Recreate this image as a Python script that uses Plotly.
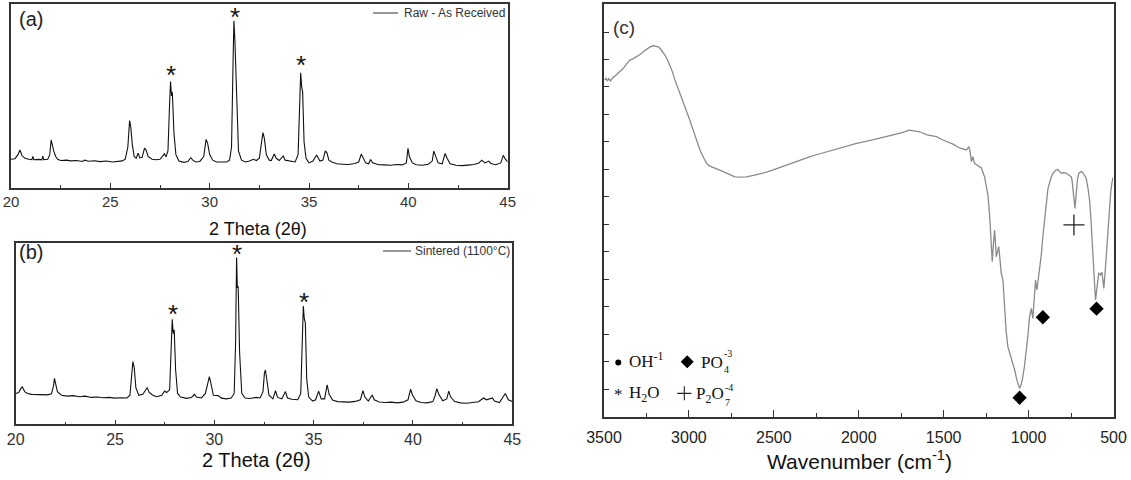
import plotly.graph_objects as go

W, H = 1131, 480

# ---------------- data: panel (a) XRD raw ----------------
a_2theta = [20.0, 20.2, 20.35, 20.45, 20.55, 20.7, 20.9, 21.05, 21.1, 21.15, 21.4, 21.55, 21.6, 21.65,
            21.85, 21.95, 22.02, 22.08, 22.15, 22.25, 22.35, 22.5, 22.8, 23.0, 23.3, 23.6, 23.7, 23.9,
            24.2, 24.5, 24.8, 25.1, 25.4, 25.6, 25.75, 25.88, 25.97, 26.03, 26.1, 26.2, 26.3, 26.4,
            26.48, 26.6, 26.72, 26.8, 26.9, 27.1, 27.3, 27.5, 27.65, 27.72, 27.8, 27.9, 27.98, 28.03,
            28.08, 28.12, 28.2, 28.3, 28.45, 28.7, 28.9, 29.05, 29.15, 29.3, 29.5, 29.7, 29.82, 29.9,
            30.0, 30.15, 30.35, 30.6, 30.85, 31.0, 31.1, 31.18, 31.22, 31.27, 31.3, 31.36, 31.45, 31.6,
            31.8, 32.0, 32.2, 32.35, 32.5, 32.62, 32.68, 32.75, 32.85, 33.0, 33.1, 33.25, 33.35, 33.5,
            33.7, 33.8, 34.0, 34.3, 34.45, 34.52, 34.58, 34.63, 34.68, 34.75, 34.85, 35.0, 35.2, 35.38,
            35.55, 35.7, 35.82, 35.9, 36.0, 36.15, 36.4, 36.7, 37.0, 37.3, 37.5, 37.63, 37.72, 37.85,
            38.0, 38.1, 38.2, 38.5, 38.8, 39.1, 39.4, 39.7, 39.9, 39.98, 40.05, 40.2, 40.4, 40.7, 41.0,
            41.2, 41.28, 41.36, 41.5, 41.7, 41.85, 41.95, 42.1, 42.4, 42.7, 43.0, 43.3, 43.55, 43.7,
            43.85, 44.05, 44.15, 44.4, 44.65, 44.78, 44.88, 45.0]
a_intensity = [15.5, 15.8, 18, 20.5, 17.5, 16, 15.5, 15.3, 17, 15.2, 15.4, 15.2, 17.2, 15.3,
               15.5, 18, 26, 23, 20, 17, 15.5, 14.8, 15, 14.6, 14.8, 14.3, 15, 14.4,
               14.7, 14.2, 14.5, 14.0, 14.3, 14.6, 15.5, 22, 36.5, 33, 24, 17, 16, 18.8,
               16.2, 16.5, 21.5, 20.5, 17, 15.5, 15.2, 15.5, 17.5, 18.5, 16.8, 20, 45, 57.8,
               50, 52, 30, 18, 14.5, 13.8, 14.2, 16.3, 15, 14.0, 14.3, 17, 26.3, 24,
               18, 15, 14, 13.8, 14, 15, 22, 70, 90.8, 80, 72, 50, 20, 15,
               14, 14.5, 15.5, 14.8, 16, 26, 30, 27, 18, 15, 14.8, 18.3, 16, 14.8,
               17.3, 15, 14.5, 14, 18, 45, 62.5, 55, 52, 25, 16, 13.5, 14.5, 17.8,
               14.5, 15, 20, 19, 15, 14, 13, 12.8, 12.6, 13.2, 14, 18.3, 16, 13.5,
               13, 15.3, 13.5, 12.5, 12.4, 12.2, 12.6, 12.4, 13.5, 21.4, 17, 13.5, 12.5, 12.2, 12.8,
               14.5, 19.9, 17.5, 13.5, 13, 18.7, 16, 13, 12.2, 12, 12.3, 12.6, 13.5, 15,
               13.5, 14.5, 13.2, 12.5, 13.5, 17.6, 15.5, 14]

# ---------------- data: panel (b) XRD sintered ----------------
b_2theta = [20.0, 20.15, 20.25, 20.33, 20.45, 20.6, 20.8, 21.0, 21.3, 21.6, 21.8, 21.9, 21.95, 22.02,
            22.1, 22.3, 22.6, 22.9, 23.2, 23.5, 23.8, 24.1, 24.4, 24.7, 25.0, 25.3, 25.6, 25.75,
            25.85, 25.9, 25.97, 26.05, 26.2, 26.4, 26.55, 26.62, 26.72, 26.9, 27.1, 27.35, 27.5, 27.6,
            27.75, 27.83, 27.88, 27.93, 27.98, 28.05, 28.15, 28.3, 28.6, 28.85, 29.0, 29.1, 29.35, 29.55,
            29.7, 29.75, 29.82, 29.95, 30.2, 30.35, 30.6, 30.85, 31.0, 31.07, 31.12, 31.16, 31.2, 31.27,
            31.38, 31.55, 31.8, 32.1, 32.3, 32.45, 32.52, 32.57, 32.65, 32.75, 32.95, 33.08, 33.18, 33.4,
            33.58, 33.68, 33.9, 34.2, 34.35, 34.43, 34.48, 34.53, 34.58, 34.65, 34.75, 34.95, 35.1, 35.25,
            35.38, 35.55, 35.68, 35.78, 35.95, 36.2, 36.5, 36.8, 37.1, 37.35, 37.48, 37.58, 37.75, 37.95,
            38.05, 38.3, 38.6, 38.9, 39.2, 39.5, 39.75, 39.88, 39.98, 40.15, 40.4, 40.7, 41.0, 41.12,
            41.2, 41.3, 41.5, 41.7, 41.8, 41.9, 42.1, 42.4, 42.7, 43.0, 43.3, 43.55, 43.7, 44.0,
            44.1, 44.35, 44.55, 44.65, 44.8, 45.0]
b_intensity = [17, 17.5, 19.5, 20.7, 18, 17, 16.5, 16.4, 16.6, 16.2, 16.8, 21, 25.3, 22,
               18, 16, 15.5, 15.8, 15.2, 15.5, 14.8, 15, 14.6, 14.8, 14.4, 14.6, 14.5, 16,
               28, 34.5, 31, 20, 16, 16.5, 19, 20.2, 17.5, 16, 15.2, 16, 18.3, 17.5,
               19, 40, 57.8, 50, 52, 30, 17, 15, 14.3, 14.8, 16.5, 15, 14.5, 17,
               24, 26.2, 23, 16, 15.8, 14.4, 14, 14.5, 17, 45, 91.9, 75, 76, 40,
               17, 14.5, 14.2, 14.8, 14.5, 18, 28, 29.9, 24, 16, 14, 18.5, 14.8, 14,
               18, 14.5, 13.8, 13.5, 17, 50, 65.1, 58, 56, 25, 15, 12.8, 13.5, 18.3,
               14, 14, 21.7, 16.5, 13.3, 12.5, 12.3, 12.2, 12.6, 13.5, 18.5, 15, 12.8, 16.1,
               13.5, 12.3, 12, 12.2, 11.8, 12.2, 13.5, 19.3, 16, 13, 12, 11.8, 12.5, 16,
               19.6, 16.5, 13, 14, 18.3, 15, 12.5, 11.8, 11.6, 11.9, 12.4, 14.5, 13.5, 14.5,
               12.8, 12, 15.5, 17, 13.5, 12.5]

# asterisk (peak) labels
ast_a_x = [28.05, 31.25, 34.6]
ast_a_y = [64.0, 95.6, 69.5]
ast_b_x = [27.9, 31.15, 34.5]
ast_b_y = [63.5, 96.6, 70.1]

# ---------------- data: panel (c) FTIR ----------------
c_wn = [3496, 3488, 3480, 3472, 3462, 3455, 3445, 3435, 3416, 3400, 3386, 3366, 3347, 3328, 3308,
        3288, 3269, 3249, 3229, 3210, 3195, 3180, 3171, 3156, 3141, 3127, 3112, 3097, 3082, 3067,
        3053, 3034, 3014, 2995, 2975, 2955, 2935, 2915, 2896, 2880, 2866, 2830, 2798, 2760, 2729,
        2695, 2661, 2620, 2582, 2543, 2504, 2465, 2425, 2386, 2347, 2290, 2228, 2123, 2018, 1913,
        1808, 1750, 1703, 1690, 1641, 1597, 1543, 1504, 1445, 1406, 1366, 1351, 1343, 1337, 1328,
        1318, 1288, 1278, 1259, 1249, 1239, 1229, 1221, 1214, 1207, 1200, 1195, 1190, 1183, 1176,
        1168, 1161, 1151, 1146, 1141, 1132, 1122, 1112, 1102, 1092, 1082, 1069, 1060, 1053, 1045,
        1037, 1025, 1014, 1004, 994, 984, 975, 967, 959, 951, 943, 935, 925, 916, 906,
        896, 886, 870, 857, 843, 828, 818, 808, 793, 778, 763, 749, 744, 739, 733,
        727, 723, 719, 712, 704, 690, 680, 671, 666, 661, 651, 641, 633, 625, 618,
        612, 606, 602, 598, 592, 587, 582, 576, 571, 567, 562, 557, 550, 543, 533,
        524, 516, 508, 503]
c_trans = [12.25, 12.32, 12.22, 12.30, 12.22, 12.28, 12.36, 12.40, 12.50, 12.60, 12.68, 12.85, 12.98, 13.03, 13.10,
           13.18, 13.28, 13.37, 13.46, 13.50, 13.49, 13.46, 13.41, 13.30, 13.16, 13.00, 12.80, 12.55, 12.25, 12.00,
           11.77, 11.46, 11.16, 10.80, 10.43, 10.06, 9.71, 9.44, 9.22, 9.13, 9.10, 9.00, 8.92, 8.82, 8.73,
           8.72, 8.73, 8.78, 8.83, 8.90, 8.98, 9.07, 9.16, 9.25, 9.34, 9.46, 9.57, 9.76, 9.94, 10.08,
           10.24, 10.33, 10.43, 10.42, 10.37, 10.26, 10.19, 10.07, 9.92, 9.78, 9.71, 9.83, 9.60, 9.28, 9.46,
           9.22, 9.10, 9.05, 8.73, 8.40, 8.05, 7.30, 6.50, 5.64, 6.30, 6.79, 6.30, 5.82, 6.00, 6.19,
           5.70, 5.22, 4.97, 4.40, 3.76, 3.10, 2.55, 2.35, 2.18, 1.95, 1.70, 1.34, 1.10, 1.03, 1.15,
           1.34, 1.80, 2.31, 2.95, 3.64, 3.94, 3.58, 4.30, 4.97, 4.61, 5.00, 5.34, 5.90, 6.55, 7.16,
           7.75, 8.30, 8.65, 8.86, 8.95, 9.00, 8.93, 8.86, 8.88, 8.86, 8.80, 8.73, 8.60, 8.37, 7.95,
           7.58, 7.90, 8.25, 8.65, 8.86, 8.92, 8.88, 8.80, 8.75, 8.68, 8.35, 7.89, 7.20, 6.43, 5.60,
           4.85, 4.25, 4.45, 4.73, 5.05, 5.22, 5.20, 5.16, 5.25, 5.22, 4.95, 4.67, 5.20, 5.82, 6.80,
           7.64, 8.20, 8.55, 8.70]

# band markers
po4_wn = [1053, 916, 600]
po4_tr = [0.69, 3.62, 3.93]
p2o7_wn = [733]
p2o7_tr = [6.98]

# legend symbols in panel (c) (data units)
leg_dot = (3416, 1.97)
leg_dia = (3010, 2.00)
leg_plus = (3027, 0.85)

xrd_ticks = [20, 25, 30, 35, 40, 45]
ftir_ticks = [3500, 3000, 2500, 2000, 1500, 1000, 500]


def px(x):
    return x / W


def py(y):
    return 1 - y / H


fig = go.Figure()

line_xrd = dict(color="#111111", width=1.1)
fig.add_trace(go.Scatter(x=a_2theta, y=a_intensity, mode="lines", line=line_xrd, xaxis="x", yaxis="y"))
fig.add_trace(go.Scatter(x=b_2theta, y=b_intensity, mode="lines", line=line_xrd, xaxis="x2", yaxis="y2"))
fig.add_trace(go.Scatter(x=c_wn, y=c_trans, mode="lines", line=dict(color="#8a8a8a", width=1.3),
                         xaxis="x3", yaxis="y3"))
fig.add_trace(go.Scatter(x=po4_wn, y=po4_tr, mode="markers",
                         marker=dict(symbol="diamond", size=11, color="black"), xaxis="x3", yaxis="y3"))
fig.add_trace(go.Scatter(x=p2o7_wn, y=p2o7_tr, mode="markers",
                         marker=dict(symbol="cross-thin-open", size=15, color="#222",
                                     line=dict(color="#222", width=1.3)),
                         xaxis="x3", yaxis="y3"))
fig.add_trace(go.Scatter(x=[leg_dot[0]], y=[leg_dot[1]], mode="markers",
                         marker=dict(symbol="circle", size=6, color="black"), xaxis="x3", yaxis="y3"))
fig.add_trace(go.Scatter(x=[leg_dia[0]], y=[leg_dia[1]], mode="markers",
                         marker=dict(symbol="diamond", size=10, color="black"), xaxis="x3", yaxis="y3"))
fig.add_trace(go.Scatter(x=[leg_plus[0]], y=[leg_plus[1]], mode="markers",
                         marker=dict(symbol="cross-thin-open", size=10, color="#222",
                                     line=dict(color="#222", width=1.1)),
                         xaxis="x3", yaxis="y3"))

ax_common = dict(showline=True, mirror=True, linecolor="#333333", linewidth=1.5,
                 showgrid=False, zeroline=False, automargin=False)

tick_font_xrd = dict(family="Liberation Sans, Arial", size=15, color="#333333")

fig.update_layout(
    width=W, height=H, margin=dict(l=0, r=0, t=0, b=0, pad=0), autosize=False,
    paper_bgcolor="white", plot_bgcolor="white", showlegend=False,
    xaxis=dict(domain=[px(11), px(507.7)], range=[20, 45], tickvals=xrd_ticks, ticks="inside",
               ticklen=5, tickcolor="#333", tickfont=tick_font_xrd, ticklabelstandoff=0,
               minor=dict(dtick=2.5, ticks="inside", ticklen=3, tickcolor="#333"),
               anchor="y", **ax_common),
    yaxis=dict(domain=[py(187.7), py(4)], range=[0, 100], showticklabels=False, ticks="",
               anchor="x", **ax_common),
    xaxis2=dict(domain=[px(15.7), px(512.3)], range=[20, 45], tickvals=xrd_ticks, ticks="inside",
                ticklen=5, tickcolor="#333", tickfont=dict(family="Liberation Sans, Arial", size=16, color="#333"),
                ticklabelstandoff=0,
                minor=dict(dtick=2.5, ticks="inside", ticklen=3, tickcolor="#333"),
                anchor="y2", **ax_common),
    yaxis2=dict(domain=[py(424.3), py(242.7)], range=[0, 100], showticklabels=False, ticks="",
                anchor="x2", **ax_common),
    xaxis3=dict(domain=[px(604), px(1113.5)], range=[3500, 500], tickvals=ftir_ticks, ticks="inside",
                ticklen=7, tickcolor="#333", ticklabelstandoff=5,
                tickfont=dict(family="Liberation Sans, Arial", size=16, color="#222"),
                minor=dict(dtick=250, ticks="inside", ticklen=4, tickcolor="#333"),
                anchor="y3", **ax_common),
    yaxis3=dict(domain=[py(416.7), py(4)], range=[0, 15.02], tick0=0, dtick=1, ticks="inside",
                ticklen=5, tickcolor="#333", showticklabels=False, anchor="x3", **ax_common),
)

ann = []
sans = "Liberation Sans, Arial"
serif = "Liberation Serif, Times New Roman"

# panel labels
ann.append(dict(text="(a)", x=px(17), y=py(19), xanchor="left", yanchor="middle",
                font=dict(family=sans, size=20, color="#222")))
ann.append(dict(text="(b)", x=px(17), y=py(252), xanchor="left", yanchor="middle",
                font=dict(family=sans, size=20, color="#222")))
ann.append(dict(text="(c)", x=px(611), y=py(27), xanchor="left", yanchor="middle",
                font=dict(family=sans, size=19, color="#333")))

# axis titles
ann.append(dict(text="2 Theta (2θ)", x=px(258), y=py(229), xanchor="center", yanchor="middle",
                font=dict(family=sans, size=18, color="#111")))
ann.append(dict(text="2 Theta (2θ)", x=px(256), y=py(460), xanchor="center", yanchor="middle",
                font=dict(family=sans, size=20, color="#111")))
ann.append(dict(text="Wavenumber (cm<sup>-1</sup>)", x=px(859), y=py(460), xanchor="center",
                yanchor="middle", font=dict(family=sans, size=21, color="#111")))

# legends (a) (b)
ann.append(dict(text="Raw - As Received", x=px(402), y=py(13), xanchor="left", yanchor="middle",
                font=dict(family=sans, size=12, color="#333")))
ann.append(dict(text="Sintered (1100°C)", x=px(413), y=py(251), xanchor="left", yanchor="middle",
                font=dict(family=sans, size=12, color="#333")))

# asterisks
for xs, ys, xr, yr in [(ast_a_x, ast_a_y, "x", "y"), (ast_b_x, ast_b_y, "x2", "y2")]:
    for xv, yv in zip(xs, ys):
        ann.append(dict(text="*", x=xv, y=yv, xref=xr, yref=yr, xanchor="center", yanchor="middle",
                        yshift=-5, font=dict(family=sans, size=26, color="#111")))

# legend (c) texts
ann.append(dict(text="OH<sup>-1</sup>", x=px(627), y=py(360), xanchor="left", yanchor="middle",
                font=dict(family=serif, size=17, color="#111")))
ann.append(dict(text="H<sub>2</sub>O", x=px(627), y=py(394), xanchor="left", yanchor="middle",
                font=dict(family=serif, size=17, color="#111")))
ann.append(dict(text="*", x=px(618), y=py(391), xanchor="center", yanchor="middle", yshift=-3,
                font=dict(family=serif, size=17, color="#111")))
ann.append(dict(text="PO", x=px(699), y=py(362), xanchor="left", yanchor="middle",
                font=dict(family=serif, size=17, color="#111")))
ann.append(dict(text="-3", x=px(722), y=py(353), xanchor="left", yanchor="middle",
                font=dict(family=serif, size=10, color="#111")))
ann.append(dict(text="4", x=px(722), y=py(369), xanchor="left", yanchor="middle",
                font=dict(family=serif, size=10, color="#111")))
ann.append(dict(text="P<sub>2</sub>O", x=px(694), y=py(395), xanchor="left", yanchor="middle",
                font=dict(family=serif, size=17, color="#111")))
ann.append(dict(text="-4", x=px(723), y=py(387), xanchor="left", yanchor="middle",
                font=dict(family=serif, size=10, color="#111")))
ann.append(dict(text="7", x=px(723), y=py(402), xanchor="left", yanchor="middle",
                font=dict(family=serif, size=10, color="#111")))

for a in ann:
    a.setdefault("xref", "paper")
    a.setdefault("yref", "paper")
    a["showarrow"] = False
fig.update_layout(annotations=ann)

shapes = [
    dict(type="line", xref="paper", yref="paper", x0=px(373), x1=px(398), y0=py(13), y1=py(13),
         line=dict(color="#333", width=1)),
    dict(type="line", xref="paper", yref="paper", x0=px(383), x1=px(411), y0=py(251), y1=py(251),
         line=dict(color="#333", width=1)),
]
fig.update_layout(shapes=shapes)

fig.write_html("out.html", config={"responsive": False, "displayModeBar": False},
               post_script="document.body.style.margin='0';document.body.style.padding='0';"
                           "document.body.style.overflow='hidden';")
